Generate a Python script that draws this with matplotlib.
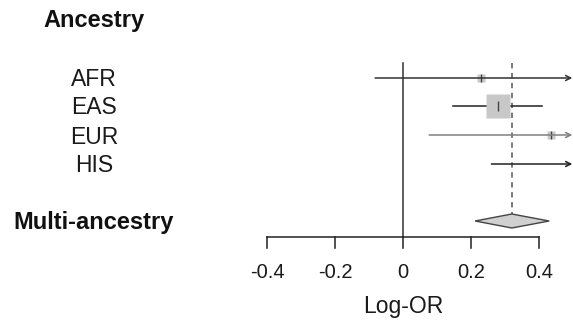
import numpy as np
import matplotlib.pyplot as plt
from matplotlib.patches import Polygon

plt.rcParams['font.family'] = ['Liberation Sans', 'DejaVu Sans']

# 数据
labels = ['AFR', 'EAS', 'EUR', 'HIS']
est = [0.229, 0.28, 0.435, 0.62]
lo = [-0.082, 0.147, 0.077, 0.26]
hi = [0.78, 0.41, 0.82, 0.95]
box_size = [5.5, 17, 5.5, 5.5]
line_col = ['#333333', '#222222', '#808080', '#222222']

pooled_est = 0.32
pooled_lo = 0.212
pooled_hi = 0.43

xticks = [-0.4, -0.2, 0, 0.2, 0.4]
xticklabels = ['-0.4', '-0.2', '0', '0.2', '0.4']

# 版面 (y 用像素行位置)
row_y = [78, 106, 135, 164]
pool_y = 221
axis_y = 237
top_y = 63
xmin, xmax = -403 / 340, 170 / 340

fig = plt.figure(figsize=(5.73, 3.21), dpi=100)
ax = fig.add_axes([0, 0, 1, 1])
ax.set_xlim(xmin, xmax)
ax.set_ylim(321, 0)
ax.axis('off')

# 零线和合并估计虚线
ax.plot([0, 0], [top_y, axis_y], color='#333333', lw=1.1)
ax.plot([pooled_est, pooled_est], [top_y, pool_y - 7], color='#555555',
        lw=1.1, ls=(0, (3.5, 3)))

# 各行置信区间
for i in range(len(labels)):
    y = row_y[i]
    if hi[i] > xmax:
        ax.annotate('', xy=(xmax - 0.002, y), xytext=(lo[i], y),
                    arrowprops=dict(arrowstyle='->', color=line_col[i], lw=1.1,
                                    mutation_scale=9, shrinkA=0, shrinkB=0))
    else:
        ax.plot([lo[i], hi[i]], [y, y], color=line_col[i], lw=1.1)
    if est[i] < xmax:
        ax.plot(est[i], y, marker='s', ms=box_size[i], color='#c8c8c8', mec='none')
        ax.plot(est[i], y, marker='|', ms=min(box_size[i], 7), color='#444444', mew=1)

# 菱形
dh = 7
diamond = Polygon([[pooled_lo, pool_y], [pooled_est, pool_y - dh],
                   [pooled_hi, pool_y], [pooled_est, pool_y + dh]],
                  closed=True, facecolor='#d0d0d0', edgecolor='#444444', lw=1)
ax.add_patch(diamond)

# x 轴
ax.plot([xticks[0], xticks[-1]], [axis_y, axis_y], color='#222222', lw=1.1)
for t, tl in zip(xticks, xticklabels):
    ax.plot([t, t], [axis_y, axis_y + 11], color='#222222', lw=1.1)
    ax.text(t, 272, tl, ha='center', va='center', fontsize=14.5, color='#1a1a1a')
ax.text(0.0, 306, 'Log-OR', ha='center', va='center', fontsize=16.5, color='#1a1a1a')

# 左侧标签
lx = (94 - 403) / 340
ax.text(lx, 20, 'Ancestry', ha='center', va='center', fontsize=17,
        fontweight='bold', color='#111111')
for lab, y in zip(labels, row_y):
    ax.text(lx, y + 2, lab, ha='center', va='center', fontsize=16.5, color='#1a1a1a')
ax.text(lx, 222, 'Multi-ancestry', ha='center', va='center', fontsize=17,
        fontweight='bold', color='#111111')

fig.savefig('out.png', dpi=100)
